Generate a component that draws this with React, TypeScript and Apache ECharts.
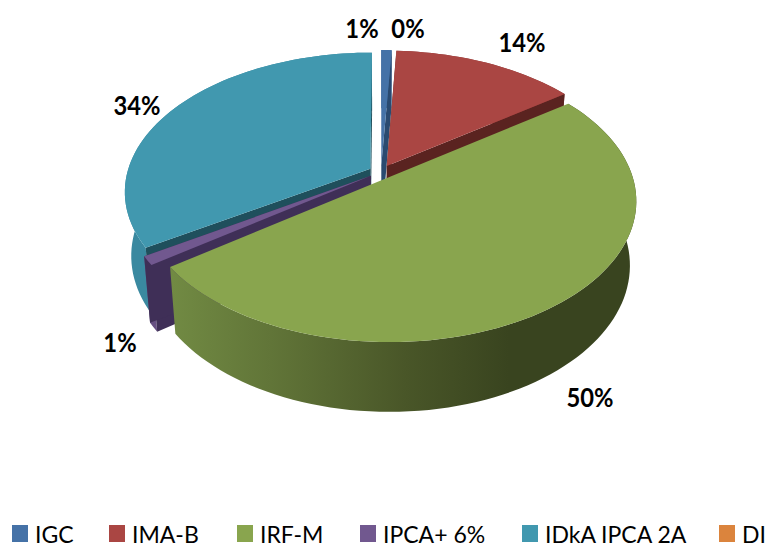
import React, { useEffect, useRef } from "react";
import * as echarts from "echarts";

// Data
const categories = ["IGC", "IMA-B", "IRF-M", "IPCA+ 6%", "IDkA IPCA 2A", "DI"];
const shares = [0.8, 14.2, 50, 1, 34, 0];
const shareLabels = ["1%", "14%", "50%", "1%", "34%", "0%"];
const topColors = ["#4572A7", "#AA4643", "#89A54E", "#71588F", "#4198AF", "#DB843D"];
const cutColors = ["#2A4A70", "#5A2320", "#39441F", "#3F2F57", "#1F4F5C", "#8A5020"];
const rimColors = ["#3F689A", "#8A3836", "#39441F", "#664F82", "#3A89A0", "#B86E30"];

// Layout
const drawOrder = [4, 5, 0, 1, 3, 2];
const labelAt = [[362, 27], [522, 41], [590, 396], [120, 341], [137, 104], [408, 27]];
const legendLeft = [12, 109, 237, 360, 522, 719];
const P = { x: 381, y: 172, A: 243, B: 135.9, k: 0.162, explode: 0.05 };
const WALL = { sx: 0.975, sy: 1.04, d: 63 };
const FONT = 'Lato, "Noto Sans", sans-serif';

const total = shares.reduce((a, b) => a + b, 0);
const rad = (d: number) => (d * Math.PI) / 180;

function point(deg: number, r: number, mid: number): [number, number] {
  const u = r * Math.sin(rad(deg)) + P.explode * Math.sin(rad(mid));
  const v = -r * Math.cos(rad(deg)) - P.explode * Math.cos(rad(mid));
  const s = 1 / (1 - P.k * v);
  return [P.x + P.A * u * s, P.y + P.B * v * s];
}
const lower = (p: [number, number]): [number, number] => [
  P.x + (p[0] - P.x) * WALL.sx,
  P.y + (p[1] - P.y) * WALL.sy + WALL.d,
];

function renderSlice(i: number, value: number) {
  const label = {
    type: "text",
    z2: 50,
    x: labelAt[i][0],
    y: labelAt[i][1],
    scaleX: 0.88,
    style: {
      text: shareLabels[i],
      x: 0,
      y: 0,
      align: "center",
      verticalAlign: "middle",
      fill: "#000000",
      font: `bold 27px ${FONT}`,
    },
  };
  if (value <= 0) return [label];
  const before = shares.slice(0, i).reduce((a, b) => a + b, 0);
  const a0 = (before / total) * 360;
  const a1 = a0 + (value / total) * 360;
  const mid = (a0 + a1) / 2;
  const arc: [number, number][] = [];
  const steps = Math.max(2, Math.ceil((a1 - a0) / 2));
  for (let n = 0; n <= steps; n++) arc.push(point(a0 + ((a1 - a0) * n) / steps, 1, mid));
  const apex = point(0, 0, mid);
  const wallFill =
    i === 2
      ? {
          type: "linear",
          global: true,
          x: 172,
          y: 0,
          x2: 640,
          y2: 0,
          colorStops: [
            { offset: 0, color: "#718A43" },
            { offset: 0.25, color: "#5E7136" },
            { offset: 0.5, color: "#495628" },
            { offset: 0.72, color: "#39441F" },
            { offset: 1, color: "#39441F" },
          ],
        }
      : rimColors[i];
  const first = arc[0];
  const last = arc[arc.length - 1];
  const poly = (points: [number, number][], fill: any) => ({
    type: "polygon",
    shape: { points },
    style: { fill, stroke: "none" },
  });
  const cuts =
    i === 2
      ? []
      : [
          poly([apex, first, lower(first), lower(apex)], cutColors[i]),
          poly([apex, last, lower(last), lower(apex)], cutColors[i]),
        ];
  return [
    poly([...arc, ...arc.map(lower).reverse()], wallFill),
    ...cuts,
    poly([apex, ...arc], topColors[i]),
    label,
  ];
}

export default function App() {
  const ref = useRef<HTMLDivElement>(null);
  useEffect(() => {
    const chart = echarts.init(ref.current!, undefined, { renderer: "svg" });
    chart.setOption({
      animation: false,
      backgroundColor: "#ffffff",
      legend: categories.map((name, i) => ({
        data: [name],
        left: legendLeft[i],
        top: 522,
        icon: "rect",
        itemWidth: 16,
        itemHeight: 17,
        itemGap: 6,
        padding: 0,
        selectedMode: false,
        textStyle: { fontFamily: FONT, fontSize: 23, color: "#000000", padding: [0, 0, 0, 2] },
      })),
      series: drawOrder.map((i) => ({
        type: "custom",
        name: categories[i],
        coordinateSystem: "none",
        silent: true,
        itemStyle: { color: topColors[i] },
        data: [[shares[i]]],
        renderItem: (_p: any, api: any) => ({
          type: "group",
          children: renderSlice(i, api.value(0)),
        }),
      })),
    });
    return () => chart.dispose();
  }, []);
  return (
    <div
      ref={ref}
      style={{ position: "absolute", left: 0, top: 0, width: 765, height: 550 }}
    />
  );
}
